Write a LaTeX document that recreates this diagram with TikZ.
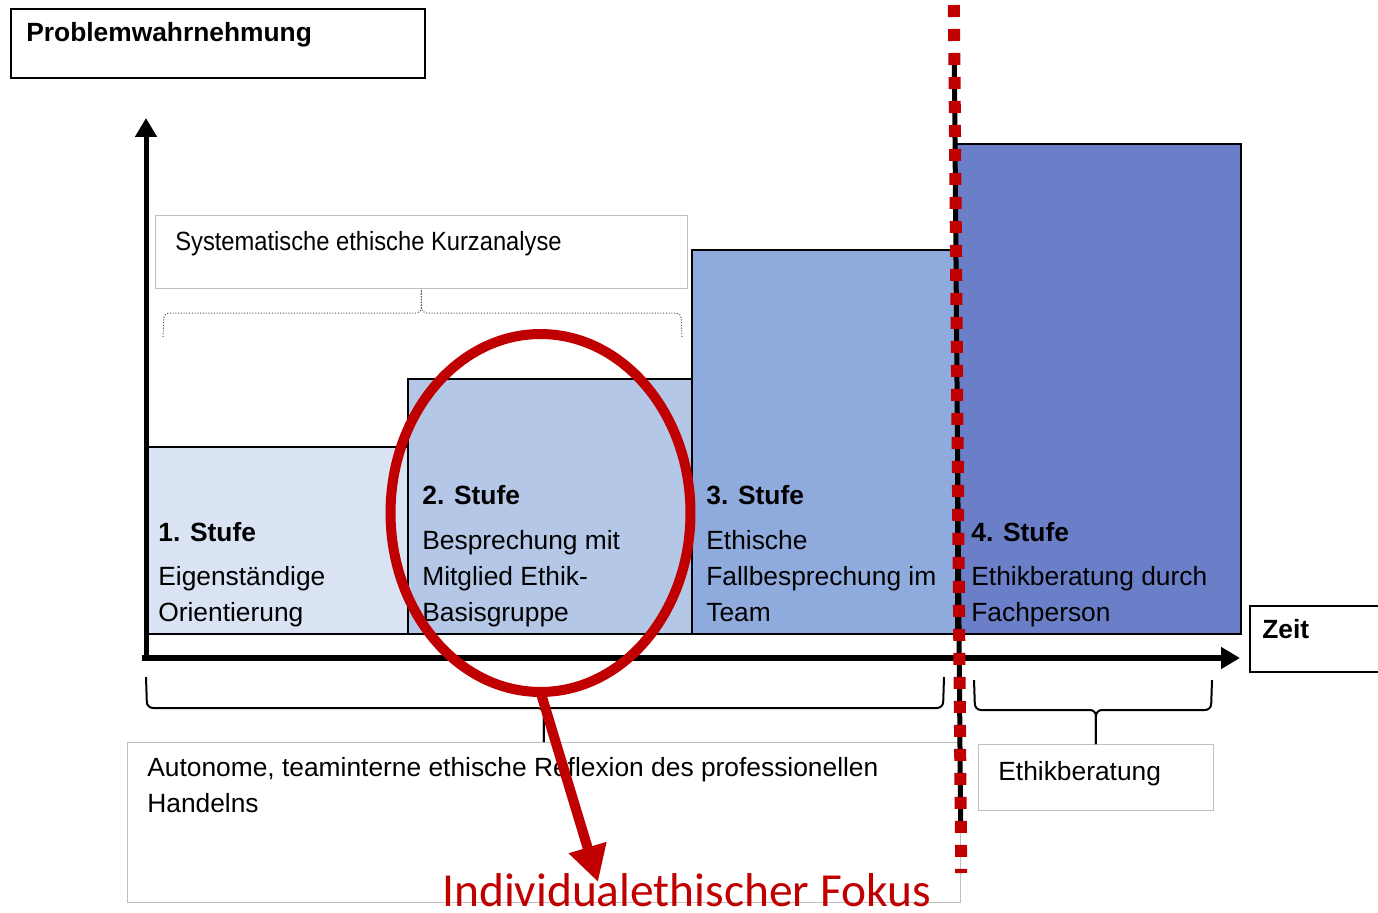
\documentclass[tikz,border=0pt]{standalone}
\usepackage{fontspec}
\setmainfont{Liberation Sans}
\newfontfamily\schmal[FakeStretch=0.9]{Liberation Sans}
\newfontfamily\calib{Carlito}
\usepackage{tikz}
\usetikzlibrary{arrows.meta,shapes.geometric}
\definecolor{stufeA}{HTML}{DAE3F3}
\definecolor{stufeB}{HTML}{B4C7E7}
\definecolor{stufeC}{HTML}{8FAADC}
\definecolor{stufeD}{HTML}{6A7FC8}
\definecolor{fokusrot}{HTML}{C00000}
\newcommand{\grund}{\fontsize{15}{20.7}\selectfont}

\begin{document}
\begin{tikzpicture}[x=0.02cm,y=-0.02cm,
    stufe/.style={rectangle,draw,line width=0.04cm,anchor=south west,inner sep=0pt},
    rahmen/.style={rectangle,draw,line width=0.04cm,anchor=north west,inner sep=0pt},
    grau/.style={rectangle,draw=gray!50,line width=0.02cm,anchor=north west,inner sep=0pt},
    txt/.style={inner sep=0pt,align=left,font=\grund},
    klammer/.style={line width=0.04cm,rounded corners=0.12cm},
    punktklammer/.style={densely dotted,line width=0.02cm,draw=black!70,rounded corners=0.1cm},
    achse/.style={line width=0.11cm,-{Triangle[length=0.38cm,width=0.42cm]}},
    rot/.style={draw=fokusrot,line width=0.2cm}
]
\useasboundingbox (0,0) rectangle (1378,912);

\node[rahmen,minimum width=8.28cm,minimum height=1.38cm] (prob) at (10,8) {};
\node[txt,anchor=base west] (probtxt) at ([shift={(16,34)}]prob.north west) {\bfseries Problemwahrnehmung};

\node[grau,minimum width=10.64cm,minimum height=1.46cm] (kurz) at (155,215) {};
\node[txt,anchor=base west] (kurztxt) at ([shift={(20,35)}]kurz.north west) {\schmal Systematische ethische Kurzanalyse};
\draw[punktklammer] (163,337) -- (164,313) -| (kurz.south);
\draw[punktklammer] (682,337) -- (681,313) -| (kurz.south);

\node[stufe,fill=stufeA,minimum width=5.22cm,minimum height=3.74cm] (s1) at (146,635) {};
\node[stufe,fill=stufeB,minimum width=5.68cm,minimum height=5.10cm] (s2) at (407,635) {};
\node[stufe,fill=stufeC,minimum width=5.28cm,minimum height=7.68cm] (s3) at (691,635) {};
\node[stufe,fill=stufeD,minimum width=5.70cm,minimum height=9.80cm] (s4) at (955,635) {};

\node[txt,anchor=south west] (t1) at ([shift={(12,-2)}]s1.south west) {\textbf{1. Stufe}\\[0.155cm]Eigenständige\\Orientierung\strut};
\node[txt,anchor=south west] (t2) at ([shift={(15,-2)}]s2.south west) {\textbf{2. Stufe}\\[0.155cm]Besprechung mit\\Mitglied Ethik-\\Basisgruppe\strut};
\node[txt,anchor=south west] (t3) at ([shift={(15,-2)}]s3.south west) {\textbf{3. Stufe}\\[0.155cm]Ethische\\Fallbesprechung im\\Team\strut};
\node[txt,anchor=south west] (t4) at ([shift={(16,-2)}]s4.south west) {\textbf{4. Stufe}\\[0.155cm]Ethikberatung durch\\Fachperson\strut};

\coordinate (ursprung) at (146,661);
\coordinate (yspitze) at (146,118);
\coordinate (xanfang) at (142,658);
\coordinate (xspitze) at (1240,658);
\draw[achse,line width=0.1cm] (ursprung) -- (yspitze);
\draw[achse] (xanfang) -- (xspitze);

\node[rahmen,minimum width=2.8cm,minimum height=1.32cm] (zeit) at (1249,605) {};
\node[txt,anchor=base west] (zeittxt) at ([shift={(13,33)}]zeit.north west) {\bfseries Zeit};

\node[grau,minimum width=16.66cm,minimum height=3.2cm] (auto) at (127,742) {};
\node[txt,anchor=south west] (autotxt) at ([shift={(20,82)}]auto.north west) {Autonome, teaminterne ethische Reflexion des professionellen\\Handelns\strut};
\node[grau,minimum width=4.7cm,minimum height=1.32cm] (ethik) at (978,744) {};
\node[txt,anchor=base west] (ethiktxt) at ([shift={(20,36)}]ethik.north west) {Ethikberatung};

\draw[klammer] (146,677) -- (147,708) -| (auto.north);
\draw[klammer] (944,677) -- (943,708) -| (auto.north);
\draw[klammer] (974,680) -- (975,710) -| (ethik.north);
\draw[klammer] (1212,680) -- (1211,710) -| (ethik.north);

\coordinate (trennA) at (954.3,55);
\coordinate (trennB) at (960.6,822);
\draw[line width=0.1cm] (trennA) -- (trennB);
\coordinate (punktA) at (953.9,5);
\coordinate (punktB) at (961.2,873);
\draw[fokusrot,line width=0.24cm,dash pattern=on 0.24cm off 0.24cm] (punktA) -- (punktB);

\node[ellipse,rot,outer sep=0pt,minimum width=6cm,minimum height=7.16cm] (kreis) at (540.5,513) {};
\coordinate (pfeilspitze) at (598,882);
\draw[rot,-{Triangle[length=0.72cm,width=0.74cm]}] (kreis.south) -- (pfeilspitze);
\node[inner sep=0pt,anchor=base,text=fokusrot,font=\calib\fontsize{27}{32}\selectfont] (fokus) at (686.5,906) {Individualethischer Fokus};
\end{tikzpicture}
\end{document}
